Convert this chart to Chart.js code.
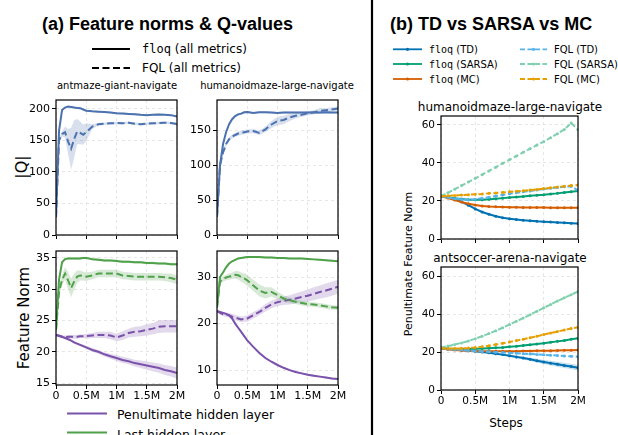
<!DOCTYPE html>
<html>
<head>
<meta charset="utf-8">
<script src="https://cdn.jsdelivr.net/npm/chart.js@4.4.1/dist/chart.umd.min.js"></script>
<style>
  body { margin:0; width:618px; height:435px; position:relative; overflow:hidden; background:#fff; color:#000; font-family:"DejaVu Sans", sans-serif; }
  canvas { position:absolute; }
  .tl { position:absolute; white-space:nowrap; transform:translate(0,-50%); }
  .tc { position:absolute; white-space:nowrap; transform:translate(-50%,-50%); }
  .rot { position:absolute; white-space:nowrap; transform:translate(-50%,-50%) rotate(-90deg); }
  .mono { font-family:"DejaVu Sans Mono", monospace; }
  .big { font:bold 18px "Liberation Sans", Arial, sans-serif; }
</style>
</head>
<body>

<div class="tl big" style="left:42px;top:24px">(a) Feature norms &amp; Q-values</div>
<div class="tl big" style="left:390px;top:24px">(b) TD vs SARSA vs MC</div>

<div class="tl" style="left:142px;top:49px;font-size:12px"><span class="mono">floq</span> (all metrics)</div>
<div class="tl" style="left:142px;top:68px;font-size:12px">FQL (all metrics)</div>

<div class="tc" style="left:117px;top:85px;font-size:10px">antmaze-giant-navigate</div>
<div class="tc" style="left:277px;top:85px;font-size:10px">humanoidmaze-large-navigate</div>
<div class="rot" style="left:21px;top:167px;font-size:16px">|Q|</div>
<div class="rot" style="left:24px;top:318px;font-size:15px">Feature Norm</div>

<div class="tl" style="left:117px;top:414px;font-size:12.5px">Penultimate hidden layer</div>
<div class="tl" style="left:117px;top:434px;font-size:12.5px">Last hidden layer</div>

<div class="tl" style="left:429px;top:49px;font-size:10px"><span class="mono">floq</span> (TD)</div>
<div class="tl" style="left:429px;top:64px;font-size:10px"><span class="mono">floq</span> (SARSA)</div>
<div class="tl" style="left:429px;top:79px;font-size:10px"><span class="mono">floq</span> (MC)</div>
<div class="tl" style="left:554px;top:49px;font-size:10px">FQL (TD)</div>
<div class="tl" style="left:554px;top:64px;font-size:10px">FQL (SARSA)</div>
<div class="tl" style="left:554px;top:79px;font-size:10px">FQL (MC)</div>

<div class="tc" style="left:510px;top:107px;font-size:12px">humanoidmaze-large-navigate</div>
<div class="tc" style="left:510px;top:258px;font-size:12px">antsoccer-arena-navigate</div>
<div class="rot" style="left:408px;top:264px;font-size:11px">Penultimate Feature Norm</div>
<div class="tc" style="left:506px;top:423px;font-size:12px">Steps</div>

<svg width="618" height="435" style="position:absolute;left:0;top:0">
  <line x1="92" y1="49" x2="130" y2="49" stroke="#000" stroke-width="2"/>
  <line x1="92" y1="68" x2="130" y2="68" stroke="#000" stroke-width="2" stroke-dasharray="7,3.5"/>
  <line x1="67" y1="413.5" x2="107" y2="413.5" stroke="#7b52ab" stroke-width="2"/>
  <line x1="67" y1="432.5" x2="107" y2="432.5" stroke="#4fa14a" stroke-width="2"/>
  <line x1="372" y1="0" x2="372" y2="435" stroke="#000" stroke-width="2.2"/>
  <g stroke-width="1.8">
    <line x1="393" y1="49.3" x2="422" y2="49.3" stroke="#0072b2"/>
    <line x1="393" y1="64" x2="422" y2="64" stroke="#009e73"/>
    <line x1="393" y1="79" x2="422" y2="79" stroke="#d55e00"/>
    <line x1="520" y1="49.3" x2="547" y2="49.3" stroke="#56b4e9" stroke-dasharray="5,2.5"/>
    <line x1="520" y1="64" x2="547" y2="64" stroke="#80d0b0" stroke-dasharray="5,2.5"/>
    <line x1="520" y1="79" x2="547" y2="79" stroke="#e69f00" stroke-dasharray="5,2.5"/>
  </g>
  <circle cx="407.5" cy="49.3" r="1.6" fill="#0072b2"/>
  <circle cx="407.5" cy="64" r="1.6" fill="#009e73"/>
  <circle cx="407.5" cy="79" r="1.6" fill="#d55e00"/>
  <circle cx="533.5" cy="49.3" r="1.6" fill="#56b4e9"/>
  <circle cx="533.5" cy="64" r="1.6" fill="#80d0b0"/>
  <circle cx="533.5" cy="79" r="1.6" fill="#e69f00"/>
</svg>

<script>
// ---- data, panel (a): steps in millions
var xA = [0, 0.05, 0.1, 0.15, 0.2, 0.25, 0.3, 0.35, 0.4, 0.45, 0.5, 0.6, 0.7, 0.8, 0.9, 1.0, 1.1, 1.2, 1.3, 1.4, 1.5, 1.6, 1.7, 1.8, 1.9, 2.0];

// |Q|, antmaze-giant-navigate
var qAntFloq   = [28, 165, 198, 202, 203.5, 203, 202, 201.5, 201, 199, 197, 196, 195.5, 195, 194, 193, 192.5, 192, 191.5, 190.5, 190, 190.5, 191, 190.5, 190, 188];
var qAntFloqSd = [0, 3, 2, 1.5, 1.5, 1.5, 1.5, 1.5, 1.5, 1.5, 1.5, 1.5, 1.5, 1.5, 1.5, 1.5, 1.5, 1.5, 1.5, 1.5, 1.5, 1.5, 1.5, 1.5, 1.5, 1.5];
var qAntFql    = [28, 150, 160, 163, 148, 137, 152, 164, 162, 159, 163, 172, 175.5, 176.5, 177, 177.5, 177, 178, 176.5, 175.5, 176.5, 177, 177.5, 178, 177.5, 176];
var qAntFqlSd  = [0, 4, 4, 9, 20, 33, 30, 20, 18, 16, 14, 4, 2, 2, 2, 2, 2, 2, 2, 2, 2, 2, 2, 2, 2, 2];

// |Q|, humanoidmaze-large-navigate
var qHumFloq   = [26, 100, 130, 147, 158.5, 165.5, 170, 172.5, 173.5, 175.5, 176, 174.5, 175.5, 175.5, 175, 174.5, 175, 175, 175, 175, 175, 175, 175, 175.5, 175, 175];
var qHumFloqSd = [0, 4, 3, 2, 1.5, 1.5, 1.5, 1.5, 1.5, 1.5, 1.5, 1.5, 1.5, 1.5, 1.5, 1.5, 1.5, 1.5, 1.5, 1.5, 1.5, 1.5, 1.5, 1.5, 1.5, 1.5];
var qHumFql    = [26, 100, 118, 130, 137, 140.5, 143, 145, 146, 147, 148, 148.5, 146, 151, 158, 163, 164.5, 168, 170.5, 172, 174, 175.5, 177.5, 178.5, 179.5, 181];
var qHumFqlSd  = [0, 5, 4, 3, 3, 3, 3, 3, 3, 3, 3, 3, 3, 4, 5, 6, 6, 5, 4, 3, 3, 3, 4, 3, 3, 3];

// feature norms, antmaze-giant-navigate
var fnAntLast      = [23.5, 31.5, 34.3, 34.8, 34.9, 34.9, 34.9, 34.9, 34.9, 35, 35, 34.8, 34.7, 34.6, 34.6, 34.5, 34.4, 34.4, 34.3, 34.3, 34.2, 34.2, 34.1, 34.1, 34.0, 34.0];
var fnAntLastSd    = [0, 0.2, 0.2, 0.2, 0.2, 0.2, 0.2, 0.2, 0.2, 0.2, 0.2, 0.2, 0.2, 0.2, 0.2, 0.2, 0.2, 0.2, 0.2, 0.2, 0.2, 0.2, 0.2, 0.2, 0.2, 0.2];
var fnAntLastFql   = [23.5, 29.5, 31.5, 32.5, 31.4, 30.2, 31.2, 32.0, 32.2, 32.1, 32.0, 32.2, 32.5, 32.5, 32.5, 32.5, 32.2, 32.1, 32.0, 32.0, 32.0, 32.0, 32.0, 31.9, 31.8, 31.5];
var fnAntLastFqlSd = [0, 0.8, 0.8, 1.0, 1.4, 1.5, 1.3, 1.0, 0.8, 0.7, 0.7, 0.6, 0.6, 0.6, 0.6, 0.6, 0.6, 0.6, 0.6, 0.6, 0.6, 0.6, 0.6, 0.6, 0.7, 0.7];
var fnAntPen       = [22.7, 22.6, 22.4, 22.2, 22.0, 21.8, 21.5, 21.3, 21.1, 20.9, 20.7, 20.3, 20.0, 19.6, 19.3, 19.0, 18.7, 18.5, 18.2, 18.0, 17.8, 17.6, 17.4, 17.1, 16.9, 16.6];
var fnAntPenSd     = [0, 0.05, 0.1, 0.1, 0.15, 0.15, 0.2, 0.2, 0.2, 0.25, 0.25, 0.3, 0.3, 0.35, 0.4, 0.45, 0.5, 0.5, 0.55, 0.6, 0.65, 0.7, 0.75, 0.8, 0.85, 0.9];
var fnAntPenFql    = [22.7, 22.5, 22.4, 22.3, 22.4, 22.4, 22.4, 22.4, 22.5, 22.5, 22.5, 22.6, 22.7, 22.7, 22.6, 22.3, 22.6, 23.0, 23.2, 23.3, 23.5, 23.7, 24.0, 24.1, 24.1, 24.1];
var fnAntPenFqlSd  = [0, 0.2, 0.2, 0.3, 0.3, 0.3, 0.3, 0.3, 0.3, 0.3, 0.4, 0.4, 0.5, 0.5, 0.6, 0.6, 0.7, 0.7, 0.8, 0.8, 0.9, 0.9, 1.0, 1.0, 1.0, 1.0];

// feature norms, humanoidmaze-large-navigate
var fnHumLast      = [23.5, 30.0, 31.0, 32.1, 32.9, 33.4, 33.7, 34.0, 34.1, 34.2, 34.3, 34.3, 34.3, 34.2, 34.2, 34.1, 34.1, 34.0, 34.0, 34.0, 33.9, 33.8, 33.7, 33.6, 33.5, 33.4];
var fnHumLastSd    = [0, 0.3, 0.3, 0.3, 0.2, 0.2, 0.2, 0.2, 0.2, 0.2, 0.2, 0.2, 0.2, 0.2, 0.2, 0.2, 0.2, 0.2, 0.2, 0.2, 0.2, 0.2, 0.2, 0.2, 0.2, 0.2];
var fnHumLastFql   = [23.5, 29.0, 29.6, 29.9, 30.1, 30.3, 30.5, 30.4, 30.0, 29.7, 29.3, 28.2, 27.1, 26.6, 26.8, 26.1, 25.4, 25.0, 24.7, 24.4, 24.2, 24.1, 23.9, 23.7, 23.5, 23.4];
var fnHumLastFqlSd = [0, 0.6, 0.6, 0.6, 0.7, 0.7, 0.8, 0.9, 1.0, 1.1, 1.2, 1.2, 1.3, 1.2, 1.0, 0.8, 0.7, 0.6, 0.5, 0.5, 0.5, 0.5, 0.5, 0.5, 0.5, 0.5];
var fnHumPen       = [22.7, 22.5, 22.3, 22.1, 21.8, 21.1, 20.0, 19.1, 18.2, 17.3, 16.4, 15.0, 13.7, 12.6, 11.8, 11.1, 10.5, 10.0, 9.6, 9.3, 9.0, 8.8, 8.6, 8.4, 8.2, 8.1];
var fnHumPenSd     = [0, 0.2, 0.2, 0.2, 0.2, 0.2, 0.2, 0.2, 0.2, 0.2, 0.2, 0.2, 0.2, 0.2, 0.2, 0.2, 0.2, 0.2, 0.2, 0.2, 0.2, 0.2, 0.2, 0.2, 0.2, 0.2];
var fnHumPenFql    = [22.7, 22.3, 22.0, 21.9, 21.8, 21.5, 21.3, 21.1, 20.9, 21.0, 21.1, 21.8, 22.5, 23.4, 24.1, 24.6, 24.9, 25.1, 25.4, 25.7, 26.0, 26.4, 26.8, 27.1, 27.5, 27.9];
var fnHumPenFqlSd  = [0, 0.3, 0.4, 0.5, 0.5, 0.6, 0.6, 0.6, 0.6, 0.6, 0.7, 0.7, 0.7, 0.8, 0.8, 0.8, 0.9, 1.0, 1.1, 1.2, 1.3, 1.4, 1.4, 1.5, 1.5, 1.5];

// ---- data, panel (b)
var xB = [0, 0.1, 0.2, 0.3, 0.4, 0.5, 0.6, 0.7, 0.8, 0.9, 1.0, 1.1, 1.2, 1.3, 1.4, 1.5, 1.6, 1.7, 1.8, 1.9, 2.0];

var hmFloqTD    = [22.5, 22.0, 20.9, 19.6, 17.8, 15.8, 14.2, 13.0, 12.0, 11.2, 10.7, 10.2, 9.9, 9.6, 9.3, 9.1, 8.9, 8.7, 8.5, 8.3, 8.1];
var hmFloqSARSA = [22.5, 22.0, 21.4, 21.0, 20.7, 20.6, 20.7, 20.9, 21.2, 21.5, 21.8, 22.1, 22.4, 22.7, 23.0, 23.3, 23.7, 24.0, 24.4, 24.8, 25.2];
var hmFloqMC    = [22.5, 21.6, 20.5, 19.4, 18.5, 17.9, 17.4, 17.1, 16.9, 16.8, 16.7, 16.7, 16.6, 16.6, 16.6, 16.6, 16.5, 16.5, 16.5, 16.5, 16.5];
var hmFqlTD     = [22.5, 21.9, 21.2, 20.8, 20.7, 20.9, 21.4, 22.0, 22.6, 23.2, 23.8, 24.3, 24.8, 25.3, 25.8, 26.3, 26.7, 27.1, 27.5, 27.8, 25.6];
var hmFqlSARSA  = [22.5, 24.3, 26.2, 28.1, 30.0, 31.9, 33.8, 35.8, 37.8, 39.8, 41.7, 43.6, 45.6, 47.5, 49.4, 51.2, 53.3, 55.4, 57.6, 61.0, 57.5];
var hmFqlMC     = [22.5, 22.7, 22.9, 23.1, 23.3, 23.5, 23.7, 24.0, 24.2, 24.5, 24.8, 25.1, 25.4, 25.8, 26.1, 26.5, 26.9, 27.3, 27.7, 28.1, 28.4];

var asFloqTD    = [22.0, 21.7, 21.4, 21.1, 20.8, 20.5, 20.1, 19.7, 19.2, 18.7, 18.1, 17.5, 16.9, 16.2, 15.5, 14.8, 14.2, 13.6, 13.0, 12.4, 11.8];
var asFloqTDSd  = [0, 0.1, 0.1, 0.2, 0.2, 0.3, 0.3, 0.4, 0.4, 0.5, 0.6, 0.7, 0.8, 0.9, 1.0, 1.1, 1.2, 1.3, 1.4, 1.5, 1.6];
var asFloqSARSA = [22.0, 21.8, 21.7, 21.7, 21.7, 21.8, 21.9, 22.1, 22.3, 22.5, 22.8, 23.1, 23.5, 23.9, 24.3, 24.7, 25.2, 25.7, 26.2, 26.8, 27.3];
var asFloqMC    = [22.0, 21.5, 21.1, 20.9, 20.7, 20.6, 20.5, 20.5, 20.5, 20.5, 20.5, 20.5, 20.6, 20.6, 20.7, 20.8, 20.8, 20.9, 21.0, 21.0, 21.1];
var asFqlTD     = [22.0, 21.7, 21.4, 21.2, 20.9, 20.6, 20.4, 20.2, 20.0, 19.8, 19.6, 19.4, 19.2, 19.0, 18.8, 18.6, 18.4, 18.2, 18.0, 17.8, 17.6];
var asFqlSARSA  = [22.5, 23.2, 24.0, 24.9, 25.9, 27.1, 28.4, 29.8, 31.3, 32.9, 34.6, 36.3, 38.0, 39.8, 41.6, 43.4, 45.2, 47.0, 48.7, 50.4, 52.0];
var asFqlMC     = [22.0, 21.9, 21.9, 22.0, 22.2, 22.5, 22.9, 23.4, 24.0, 24.7, 25.4, 26.1, 26.8, 27.6, 28.4, 29.3, 30.1, 30.9, 31.7, 32.5, 33.2];

// ticks
var xTicks = [0, 0.5, 1, 1.5, 2];
var xTickLabels = ['0', '0.5M', '1M', '1.5M', '2M'];
var yTicksQAnt = [0, 50, 100, 150, 200];
var yTicksQHum = [0, 50, 100, 150];
var yTicksFnAnt = [15, 20, 25, 30, 35];
var yTicksFnHum = [10, 20, 30];
var yTicksB = [0, 20, 40, 60];

// colours
var blue = '#4c72b0', green = '#4fa14a', purple = '#7b52ab';
var cTD = '#0072b2', cSARSA = '#009e73', cMC = '#d55e00';
var cFTD = '#56b4e9', cFSARSA = '#80d0b0', cFMC = '#e69f00';

function pts(xs, ys) {
  return xs.map(function(x, i) { return {x: x, y: ys[i]}; });
}

function alpha(hex, a) {
  var n = parseInt(hex.slice(1), 16);
  return 'rgba(' + (n >> 16) + ',' + ((n >> 8) & 255) + ',' + (n & 255) + ',' + a + ')';
}

// band = upper edge + lower edge filled to the previous dataset
function band(xs, m, sd, color) {
  return [
    {data: pts(xs, m.map(function(v, i) { return v + sd[i]; })), borderColor: 'transparent', borderWidth: 0, pointRadius: 0, fill: false},
    {data: pts(xs, m.map(function(v, i) { return v - sd[i]; })), borderColor: 'transparent', borderWidth: 0, pointRadius: 0, fill: '-1', backgroundColor: alpha(color, 0.22)}
  ];
}

function line(xs, m, color, dashed, w, marker) {
  return {
    data: pts(xs, m), borderColor: color, borderWidth: w, borderDash: dashed ? (marker ? [5, 2.5] : [7, 3.5]) : [],
    pointRadius: marker ? 1.5 : 0, pointBackgroundColor: color, pointBorderWidth: 0, fill: false, tension: 0
  };
}

var frame = {
  id: 'frame',
  afterDatasetsDraw: function(c) {
    var a = c.chartArea, ctx = c.ctx;
    ctx.save();
    ctx.strokeStyle = '#000';
    ctx.lineWidth = 1.2;
    ctx.strokeRect(a.left, a.top, a.right - a.left, a.bottom - a.top);
    ctx.restore();
  }
};

// box = plot area in page pixels
function makeChart(box, yMin, yMax, yTicks, showX, fs, datasets) {
  var YW = 40, PT = 12, PR = 14, XH = 24;
  var cv = document.createElement('canvas');
  var w = YW + (box.r - box.l) + PR, h = PT + (box.b - box.t) + XH;
  cv.width = w; cv.height = h;
  cv.style.left = (box.l - YW) + 'px';
  cv.style.top = (box.t - PT) + 'px';
  cv.style.width = w + 'px'; cv.style.height = h + 'px';
  document.body.appendChild(cv);
  var font = {family: 'DejaVu Sans', size: fs};
  var grid = {color: '#e0e0e0', lineWidth: 0.8, tickColor: '#000', tickLength: 4, tickWidth: 1};
  new Chart(cv.getContext('2d'), {
    type: 'line',
    data: {datasets: datasets},
    options: {
      responsive: false, animation: false, events: [], devicePixelRatio: 1,
      layout: {padding: {top: PT, right: PR, left: 0, bottom: 0}},
      plugins: {legend: {display: false}, tooltip: {enabled: false}},
      scales: {
        x: {
          type: 'linear', min: 0, max: 2,
          afterBuildTicks: function(s) { s.ticks = xTicks.map(function(v) { return {value: v}; }); },
          afterFit: function(s) { s.height = XH; },
          ticks: {display: showX, font: font, color: '#000', padding: 1, maxRotation: 0, autoSkip: false,
                  callback: function(v, i) { return xTickLabels[i]; }},
          grid: grid, border: {display: false, dash: [3, 3]}
        },
        y: {
          type: 'linear', min: yMin, max: yMax,
          afterBuildTicks: function(s) { s.ticks = yTicks.map(function(v) { return {value: v}; }); },
          afterFit: function(s) { s.width = YW; },
          ticks: {font: font, color: '#000', padding: 2, autoSkip: false, callback: function(v) { return String(v); }},
          grid: grid, border: {display: false, dash: [3, 3]}
        }
      }
    },
    plugins: [frame]
  });
}

// panel (a)
makeChart({l: 56, t: 100, r: 177, b: 235}, 0, 214, yTicksQAnt, false, 11, [].concat(
  line(xA, qAntFloq, blue, false, 2), band(xA, qAntFloq, qAntFloqSd, blue),
  line(xA, qAntFql, blue, true, 2), band(xA, qAntFql, qAntFqlSd, blue)
));
makeChart({l: 217, t: 100, r: 338, b: 235}, 0, 193, yTicksQHum, false, 11, [].concat(
  line(xA, qHumFloq, blue, false, 2), band(xA, qHumFloq, qHumFloqSd, blue),
  line(xA, qHumFql, blue, true, 2), band(xA, qHumFql, qHumFqlSd, blue)
));
makeChart({l: 56, t: 251, r: 177, b: 385}, 14.7, 36.1, yTicksFnAnt, true, 11, [].concat(
  line(xA, fnAntLast, green, false, 2), band(xA, fnAntLast, fnAntLastSd, green),
  line(xA, fnAntLastFql, green, true, 2), band(xA, fnAntLastFql, fnAntLastFqlSd, green),
  line(xA, fnAntPen, purple, false, 2), band(xA, fnAntPen, fnAntPenSd, purple),
  line(xA, fnAntPenFql, purple, true, 2), band(xA, fnAntPenFql, fnAntPenFqlSd, purple)
));
makeChart({l: 217, t: 251, r: 338, b: 385}, 6.8, 35.6, yTicksFnHum, true, 11, [].concat(
  line(xA, fnHumLast, green, false, 2), band(xA, fnHumLast, fnHumLastSd, green),
  line(xA, fnHumLastFql, green, true, 2), band(xA, fnHumLastFql, fnHumLastFqlSd, green),
  line(xA, fnHumPen, purple, false, 2), band(xA, fnHumPen, fnHumPenSd, purple),
  line(xA, fnHumPenFql, purple, true, 2), band(xA, fnHumPenFql, fnHumPenFqlSd, purple)
));

// panel (b): first dataset is drawn on top
makeChart({l: 441, t: 116, r: 578, b: 239}, 0, 64.7, yTicksB, false, 10.5, [
  line(xB, hmFqlMC, cFMC, true, 2, true),
  line(xB, hmFqlSARSA, cFSARSA, true, 2, true),
  line(xB, hmFqlTD, cFTD, true, 2, true),
  line(xB, hmFloqMC, cMC, false, 2, true),
  line(xB, hmFloqSARSA, cSARSA, false, 2, true),
  line(xB, hmFloqTD, cTD, false, 2, true)
]);
makeChart({l: 441, t: 267, r: 578, b: 390}, 0, 65, yTicksB, true, 10.5, [].concat(
  line(xB, asFqlMC, cFMC, true, 2, true),
  line(xB, asFqlSARSA, cFSARSA, true, 2, true),
  line(xB, asFqlTD, cFTD, true, 2, true),
  line(xB, asFloqMC, cMC, false, 2, true),
  line(xB, asFloqSARSA, cSARSA, false, 2, true),
  line(xB, asFloqTD, cTD, false, 2, true), band(xB, asFloqTD, asFloqTDSd, cTD)
));
</script>
</body>
</html>
